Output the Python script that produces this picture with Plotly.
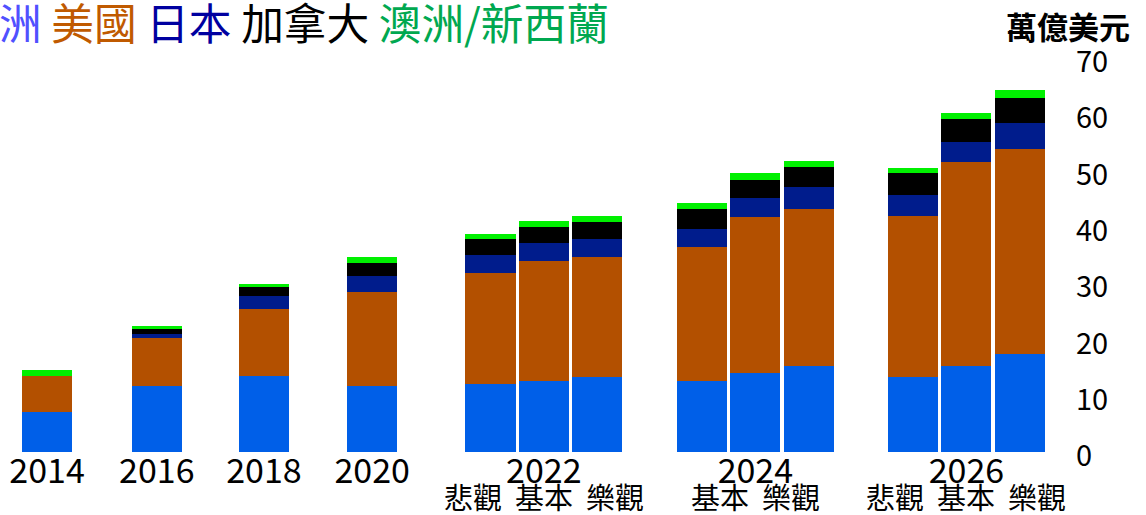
import plotly.graph_objects as go

# ---------------- data ----------------
YEARS = ["2014", "2016", "2018", "2020", "2022", "2024", "2026"]
SCENARIO_ROW = ["", "", "", "", "悲觀 基本 樂觀", "基本 樂觀", "悲觀 基本 樂觀"]

BAR_YEAR = ["2014", "2016", "2018", "2020",
            "2022", "2022", "2022",
            "2024", "2024", "2024",
            "2026", "2026", "2026"]
BAR_SCENARIO = ["", "", "", "",
                "悲觀", "基本", "樂觀",
                "悲觀", "基本", "樂觀",
                "悲觀", "基本", "樂觀"]

SERIES_NAMES = ["亞洲", "美國", "日本", "加拿大", "澳洲/新西蘭"]
ASIA = [7.05, 11.8, 13.55, 11.8, 12.1, 12.6, 13.4, 12.6, 14.1, 15.3, 13.4, 15.3, 17.4]
USA = [6.5, 8.45, 11.8, 16.7, 19.75, 21.4, 21.3, 23.9, 27.6, 27.8, 28.5, 36.3, 36.4]
JAPAN = [0, 0.65, 2.35, 2.85, 3.15, 3.2, 3.1, 3.1, 3.4, 3.9, 3.7, 3.5, 4.6]
CANADA = [0, 0.9, 1.55, 2.2, 2.8, 2.7, 3.0, 3.5, 3.3, 3.6, 3.9, 4.0, 4.5]
ANZ = [1.1, 0.5, 0.6, 1.1, 0.9, 1.1, 1.2, 1.1, 1.1, 1.1, 1.0, 1.2, 1.5]

Y_TICKS = [0, 10, 20, 30, 40, 50, 60, 70]
Y_TITLE = "萬億美元"

# ---------------- layout constants ----------------
W, H = 1146, 515
M_L, M_R, M_T, M_B = 0, 71, 58, 63
PLOT_W = W - M_L - M_R
PLOT_H = H - M_T - M_B
PX_PER_UNIT = 53.3
FIRST_CENTER_PX = 47
GROUP_CENTER = [0, 2.06, 4.07, 6.1, 9.32, 13.29, 17.25]   # slot units
SCEN_OFFSET = {"": 0, "悲觀": -1, "基本": 0, "樂觀": 1}
BAR_WIDTH = 0.94

FILL = ["#005FE8", "#B35000", "#001C8C", "#000000", "#00F000"]
TITLE_COL = ["#5050FF", "#C05A00", "#0000A0", "#000000", "#00A850"]
FONT = "Noto Sans CJK TC"

x_pos = [GROUP_CENTER[YEARS.index(y)] + SCEN_OFFSET[s]
         for y, s in zip(BAR_YEAR, BAR_SCENARIO)]

fig = go.Figure()
for name, vals, col in zip(SERIES_NAMES, [ASIA, USA, JAPAN, CANADA, ANZ], FILL):
    fig.add_trace(go.Bar(
        x=x_pos, y=vals, name=name, width=BAR_WIDTH,
        marker=dict(color=col, line=dict(width=0)),
        showlegend=False,
    ))

x0 = -FIRST_CENTER_PX / PX_PER_UNIT
x1 = x0 + PLOT_W / PX_PER_UNIT

fig.update_layout(
    width=W, height=H,
    margin=dict(l=M_L, r=M_R, t=M_T, b=M_B, pad=0),
    barmode="stack",
    bargap=0,
    plot_bgcolor="white", paper_bgcolor="white",
    font=dict(family=FONT, color="black"),
    xaxis=dict(
        range=[x0, x1], showgrid=False, zeroline=False, showline=False,
        tickmode="array", tickvals=GROUP_CENTER, ticktext=YEARS,
        tickfont=dict(size=34, family=FONT), ticks="",
        ticklabelstandoff=-4,
    ),
    yaxis=dict(
        range=[0, 70], side="right", showgrid=False, zeroline=False, showline=False,
        tickmode="array", tickvals=Y_TICKS, ticktext=[str(t) for t in Y_TICKS],
        tickfont=dict(size=29, family=FONT), ticks="",
        ticklabelshift=4,
    ),
)

# scenario row under the years
for gx, txt in zip(GROUP_CENTER, SCENARIO_ROW):
    if txt:
        fig.add_annotation(
            x=gx, xref="x", y=-(496.5 - (H - M_B)) / PLOT_H, yref="paper",
            text=txt.replace(" ", "\u00a0\u00a0"), showarrow=False,
            xanchor="center", yanchor="middle",
            font=dict(size=29, family=FONT, color="black"),
        )

# coloured title acting as legend
title_txt = " ".join(
    f'<span style="color:{c}">{n}</span>'
    for n, c in zip(["洲"] + SERIES_NAMES[1:], TITLE_COL)
)
fig.add_annotation(
    x=-3 / PLOT_W, xref="paper", y=(H - M_B - 21) / PLOT_H, yref="paper",
    text=title_txt, showarrow=False,
    xanchor="left", yanchor="middle",
    font=dict(size=42.7, family=FONT),
)

# unit label
fig.add_annotation(
    x=(1132 - M_L) / PLOT_W, xref="paper", y=(H - M_B - 26) / PLOT_H, yref="paper",
    text=f"<b>{Y_TITLE}</b>", showarrow=False,
    xanchor="right", yanchor="middle",
    font=dict(size=31, family=FONT, color="black"),
)

fig.write_html(
    "out.html",
    config={"displayModeBar": False},
    post_script="document.body.style.margin='0';document.body.style.overflow='hidden';",
)
